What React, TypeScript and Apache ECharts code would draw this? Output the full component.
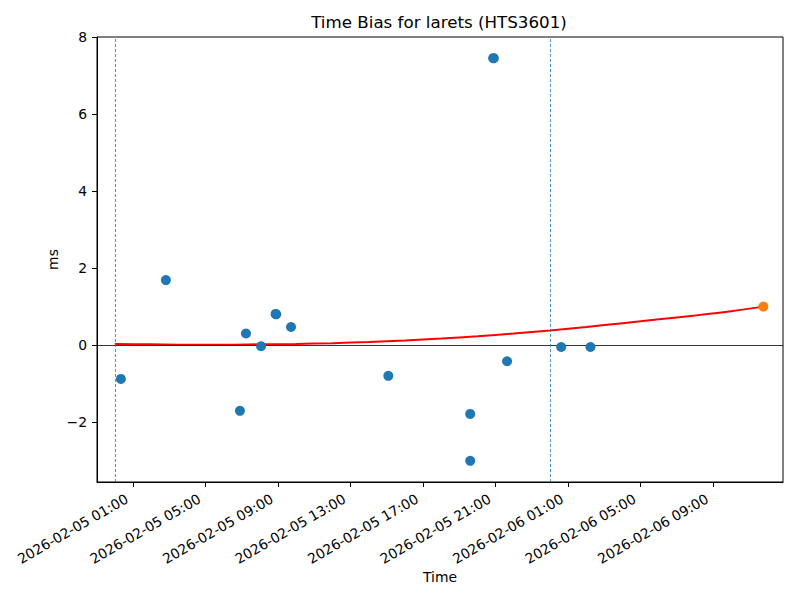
import React, { useEffect, useRef } from "react";
import * as echarts from "echarts";

// Observed time bias points (UTC)
const obsTimes = [
  "2026-02-05 00:20",
  "2026-02-05 02:49",
  "2026-02-05 06:54",
  "2026-02-05 07:14",
  "2026-02-05 08:04",
  "2026-02-05 08:52",
  "2026-02-05 08:54",
  "2026-02-05 09:43",
  "2026-02-05 15:05",
  "2026-02-05 19:36",
  "2026-02-05 19:36",
  "2026-02-05 20:52",
  "2026-02-05 20:54",
  "2026-02-05 21:38",
  "2026-02-06 00:37",
  "2026-02-06 02:14",
];
const obsValues = [
  -0.88, 1.69, -1.71, 0.3, -0.03, 0.81, 0.8, 0.47, -0.8, -1.79, -3.01, 7.46,
  7.46, -0.42, -0.05, -0.05,
];

// Predicted point
const predTimes = ["2026-02-06 11:46"];
const predValues = [1.0];

// Fitted curve
const fitTimes = [
  "2026-02-05 00:00",
  "2026-02-05 02:00",
  "2026-02-05 04:00",
  "2026-02-05 06:00",
  "2026-02-05 08:00",
  "2026-02-05 10:00",
  "2026-02-05 12:00",
  "2026-02-05 14:00",
  "2026-02-05 16:00",
  "2026-02-05 18:00",
  "2026-02-05 20:00",
  "2026-02-05 22:00",
  "2026-02-06 00:00",
  "2026-02-06 02:00",
  "2026-02-06 04:00",
  "2026-02-06 06:00",
  "2026-02-06 08:00",
  "2026-02-06 10:00",
  "2026-02-06 11:46",
];
const fitValues = [
  0.03, 0.02, 0.01, 0.01, 0.02, 0.03, 0.05, 0.08, 0.12, 0.17, 0.23, 0.3, 0.38,
  0.47, 0.57, 0.67, 0.77, 0.88, 1.0,
];

const xTickTimes = [
  "2026-02-05 01:00",
  "2026-02-05 05:00",
  "2026-02-05 09:00",
  "2026-02-05 13:00",
  "2026-02-05 17:00",
  "2026-02-05 21:00",
  "2026-02-06 01:00",
  "2026-02-06 05:00",
  "2026-02-06 09:00",
];
const yTicks = [-2, 0, 2, 4, 6, 8];
const dayLines = ["2026-02-05 00:00", "2026-02-06 00:00"];
const xRange = ["2026-02-04 23:01", "2026-02-06 12:51"];
const yRange = [-3.56, 8.01];

const toMs = (s: string) => Date.parse(s.replace(" ", "T") + ":00Z");
const pad = (n: number) => String(n).padStart(2, "0");
const fmtTime = (v: number) => {
  const d = new Date(v);
  return `${d.getUTCFullYear()}-${pad(d.getUTCMonth() + 1)}-${pad(
    d.getUTCDate()
  )} ${pad(d.getUTCHours())}:${pad(d.getUTCMinutes())}`;
};
const fmtNum = (v: number) => (v < 0 ? "\u2212" + Math.abs(v) : String(v));

const FONT = "DejaVu Sans";

export default function App() {
  const ref = useRef<HTMLDivElement>(null);
  useEffect(() => {
    if (!ref.current) return;
    const chart = echarts.init(ref.current, undefined, { renderer: "svg" });
    const obs = obsTimes.map((t, i) => [toMs(t), obsValues[i]]);
    const pred = predTimes.map((t, i) => [toMs(t), predValues[i]]);
    const fit = fitTimes.map((t, i) => [toMs(t), fitValues[i]]);
    chart.setOption({
      animation: false,
      textStyle: { fontFamily: FONT },
      title: {
        text: "Time Bias for larets (HTS3601)",
        left: 434,
        textAlign: "center",
        top: 8,
        textStyle: {
          fontFamily: FONT,
          fontSize: 16.7,
          fontWeight: "normal",
          color: "#000",
        },
      },
      grid: {
        left: 97,
        right: 17,
        top: 37,
        bottom: 118,
        show: true,
        borderColor: "#000",
        borderWidth: 1,
        backgroundColor: "transparent",
      },
      xAxis: {
        type: "value",
        min: toMs(xRange[0]),
        max: toMs(xRange[1]),
        name: "Time",
        nameLocation: "middle",
        nameGap: 88,
        nameMoveOverlap: false,
        nameTextStyle: { fontFamily: FONT, fontSize: 13.9, color: "#000" },
        axisLine: { show: true, onZero: false, lineStyle: { color: "#000", width: 1 } },
        axisTick: {
          show: true,
          length: 5,
          customValues: xTickTimes.map(toMs),
          lineStyle: { color: "#000", width: 1 },
        },
        axisLabel: {
          customValues: xTickTimes.map(toMs),
          formatter: (v: number) => fmtTime(v),
          rotate: 30,
          margin: 12,
          padding: [0, 7, 0, 0],
          fontFamily: FONT,
          fontSize: 13.9,
          color: "#000",
        },
        splitLine: { show: false },
      },
      yAxis: {
        type: "value",
        min: yRange[0],
        max: yRange[1],
        name: "ms",
        nameLocation: "middle",
        nameRotate: 90,
        nameGap: 37,
        nameMoveOverlap: false,
        nameTextStyle: { fontFamily: FONT, fontSize: 13.9, color: "#000" },
        axisLine: { show: true, onZero: false, lineStyle: { color: "#000", width: 1 } },
        axisTick: {
          show: true,
          length: 5,
          customValues: yTicks,
          lineStyle: { color: "#000", width: 1 },
        },
        axisLabel: {
          customValues: yTicks,
          formatter: (v: number) => fmtNum(v),
          margin: 10,
          fontFamily: FONT,
          fontSize: 13.9,
          color: "#000",
        },
        splitLine: { show: false },
      },
      series: [
        {
          type: "line",
          name: "fit",
          data: fit,
          showSymbol: false,
          smooth: 0.3,
          lineStyle: { color: "#ff0000", width: 2 },
          z: 3,
          markLine: {
            silent: true,
            symbol: "none",
            label: { show: false },
            data: [
              { yAxis: 0, lineStyle: { color: "#000", width: 0.8, type: "solid" } },
              ...dayLines.map((t) => ({
                xAxis: toMs(t),
                lineStyle: { color: "#1f77b4", width: 0.8, type: [3, 2] },
              })),
            ],
          },
        },
        {
          type: "scatter",
          name: "observed",
          data: obs,
          symbolSize: 10,
          itemStyle: { color: "#1f77b4", opacity: 1 },
          z: 5,
        },
        {
          type: "scatter",
          name: "predicted",
          data: pred,
          symbolSize: 10,
          itemStyle: { color: "#ff7f0e", opacity: 1 },
          z: 5,
        },
      ],
    });
    return () => chart.dispose();
  }, []);
  return (
    <div
      ref={ref}
      style={{ position: "absolute", left: 0, top: 0, width: 800, height: 600 }}
    />
  );
}
